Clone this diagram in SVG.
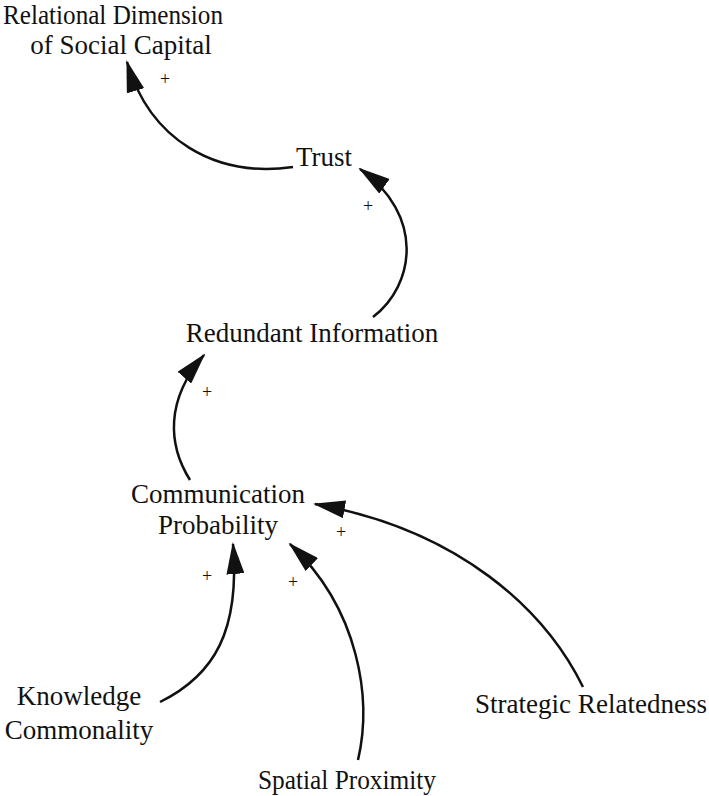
<svg xmlns="http://www.w3.org/2000/svg" width="709" height="796" viewBox="0 0 709 796">
<style>
.lbl{font-family:"Liberation Serif","Times New Roman",serif;font-size:27px;fill:#111;text-anchor:middle}
.pl{font-family:"Liberation Serif","Times New Roman",serif;font-size:18px;fill:#111;text-anchor:middle}
.c{fill:none;stroke:#111;stroke-width:2.5}
</style>
<defs>
<marker id="ah" markerUnits="userSpaceOnUse" viewBox="0 0 32 18" refX="30" refY="9" markerWidth="32" markerHeight="18" orient="auto">
<path d="M0,0 L32,9 L0,18 Z" fill="#111"/>
</marker>
</defs>
<g id="connectors">
<path class="c" marker-end="url(#ah)" d="M293,167 C215,178 150,140 127,62"/>
<path class="c" marker-end="url(#ah)" d="M373,317 C415,285 425,215 360,169"/>
<path class="c" marker-end="url(#ah)" d="M190,480 C168,445 165,400 204,355"/>
<path class="c" marker-end="url(#ah)" d="M583,687 C545,610 460,530 315,504"/>
<path class="c" marker-end="url(#ah)" d="M358,760 C372,700 360,610 290,544"/>
<path class="c" marker-end="url(#ah)" d="M160,702 C215,675 240,630 233,544"/>
</g>
<g id="polarities">
<text class="pl" x="165" y="85">+</text>
<text class="pl" x="368" y="212">+</text>
<text class="pl" x="207" y="398">+</text>
<text class="pl" x="341" y="538">+</text>
<text class="pl" x="207" y="582">+</text>
<text class="pl" x="293" y="588">+</text>
</g>
<g id="relational"><text class="lbl" x="113" y="24" textLength="220" lengthAdjust="spacingAndGlyphs">Relational Dimension</text><text class="lbl" x="121" y="54">of Social Capital</text></g>
<g id="trust"><text class="lbl" x="324" y="166">Trust</text></g>
<g id="redundant"><text class="lbl" x="312" y="342">Redundant Information</text></g>
<g id="communication"><text class="lbl" x="218" y="503">Communication</text><text class="lbl" x="218" y="534">Probability</text></g>
<g id="knowledge"><text class="lbl" x="79" y="705">Knowledge</text><text class="lbl" x="79" y="739">Commonality</text></g>
<g id="spatial"><text class="lbl" x="347" y="789" textLength="178" lengthAdjust="spacingAndGlyphs">Spatial Proximity</text></g>
<g id="strategic"><text class="lbl" x="591" y="713" textLength="232" lengthAdjust="spacingAndGlyphs">Strategic Relatedness</text></g>
</svg>
